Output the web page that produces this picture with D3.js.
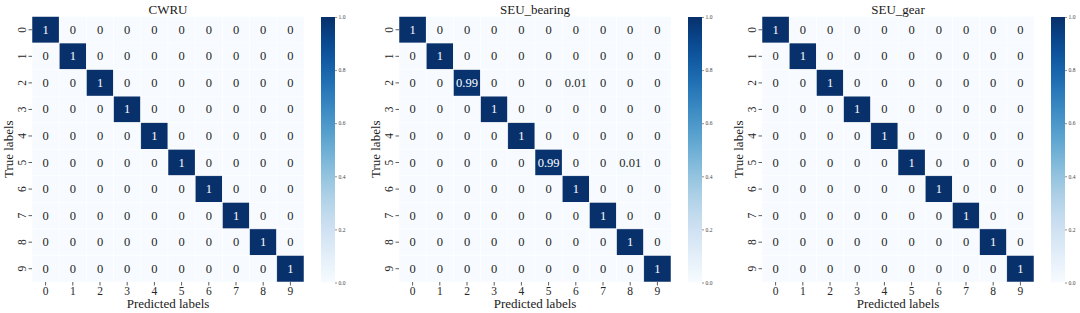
<!DOCTYPE html>
<html>
<head>
<meta charset="utf-8">
<script src="https://cdn.jsdelivr.net/npm/d3@7"></script>
<style>
  html, body { margin: 0; padding: 0; background: #fff; }
  svg { display: block; }
  svg text { font-family: "Liberation Serif", "Times New Roman", serif !important; }
</style>
</head>
<body>
<svg id="chart" width="1080" height="313"></svg>
<script>
const categories = ["0","1","2","3","4","5","6","7","8","9"];
const titles = ["CWRU", "SEU_bearing", "SEU_gear"];
const colorbarTicks = [0.0, 0.2, 0.4, 0.6, 0.8, 1.0];

const cwru = [
  [1,0,0,0,0,0,0,0,0,0],
  [0,1,0,0,0,0,0,0,0,0],
  [0,0,1,0,0,0,0,0,0,0],
  [0,0,0,1,0,0,0,0,0,0],
  [0,0,0,0,1,0,0,0,0,0],
  [0,0,0,0,0,1,0,0,0,0],
  [0,0,0,0,0,0,1,0,0,0],
  [0,0,0,0,0,0,0,1,0,0],
  [0,0,0,0,0,0,0,0,1,0],
  [0,0,0,0,0,0,0,0,0,1]
];
const seuBearing = [
  [1,0,0,0,0,0,0,0,0,0],
  [0,1,0,0,0,0,0,0,0,0],
  [0,0,0.99,0,0,0,0.01,0,0,0],
  [0,0,0,1,0,0,0,0,0,0],
  [0,0,0,0,1,0,0,0,0,0],
  [0,0,0,0,0,0.99,0,0,0.01,0],
  [0,0,0,0,0,0,1,0,0,0],
  [0,0,0,0,0,0,0,1,0,0],
  [0,0,0,0,0,0,0,0,1,0],
  [0,0,0,0,0,0,0,0,0,1]
];
const seuGear = [
  [1,0,0,0,0,0,0,0,0,0],
  [0,1,0,0,0,0,0,0,0,0],
  [0,0,1,0,0,0,0,0,0,0],
  [0,0,0,1,0,0,0,0,0,0],
  [0,0,0,0,1,0,0,0,0,0],
  [0,0,0,0,0,1,0,0,0,0],
  [0,0,0,0,0,0,1,0,0,0],
  [0,0,0,0,0,0,0,1,0,0],
  [0,0,0,0,0,0,0,0,1,0],
  [0,0,0,0,0,0,0,0,0,1]
];
const matrices = [cwru, seuBearing, seuGear];

const svg = d3.select("#chart");
const lefts = [32, 399, 762];
const topY = 16.5, hmW = 272, hmH = 265.5;
const cbOffset = 289, cbW = 14, cbTop = 17, cbBottom = 282.5;
const color = d3.scaleSequential(d3.interpolateBlues).domain([0, 1]);
const fmt = v => (v === 0 || v === 1) ? String(v) : d3.format(".2f")(v);

// gradient
const defs = svg.append("defs");
const grad = defs.append("linearGradient").attr("id", "cbgrad")
  .attr("x1", 0).attr("y1", 1).attr("x2", 0).attr("y2", 0);
d3.range(0, 1.0001, 0.05).forEach(t => {
  grad.append("stop").attr("offset", t).attr("stop-color", color(t));
});

matrices.forEach((mat, pi) => {
  const left = lefts[pi];
  const g = svg.append("g");
  const x = d3.scaleBand().domain(categories).range([left, left + hmW]);
  const y = d3.scaleBand().domain(categories).range([topY, topY + hmH]);

  const cells = [];
  mat.forEach((row, r) => row.forEach((v, c) => cells.push({r, c, v})));

  g.selectAll("rect.cell").data(cells).join("rect")
    .attr("class", "cell")
    .attr("x", d => x(categories[d.c]))
    .attr("y", d => y(categories[d.r]))
    .attr("width", x.bandwidth())
    .attr("height", y.bandwidth())
    .attr("fill", d => color(d.v))
    .attr("stroke", "#ffffff")
    .attr("stroke-width", 0.5);

  g.selectAll("text.annot").data(cells).join("text")
    .attr("class", "annot")
    .attr("x", d => x(categories[d.c]) + x.bandwidth() / 2)
    .attr("y", d => y(categories[d.r]) + y.bandwidth() / 2)
    .attr("text-anchor", "middle")
    .attr("dominant-baseline", "central")
    .attr("font-size", 12.5)
    .attr("fill", d => d.v > 0.5 ? "#ffffff" : "#262626")
    .text(d => fmt(d.v));

  // x axis
  const xa = g.append("g").attr("transform", `translate(0,${topY + hmH})`)
    .call(d3.axisBottom(x).tickSize(3.5).tickPadding(1));
  xa.select(".domain").remove();
  xa.selectAll(".tick line").attr("stroke", "#333").attr("stroke-width", 0.8);
  xa.selectAll(".tick text").attr("font-size", 11.5).attr("fill", "#262626");

  // y axis
  const ya = g.append("g").attr("transform", `translate(${left},0)`)
    .call(d3.axisLeft(y).tickSize(3.5).tickPadding(2));
  ya.select(".domain").remove();
  ya.selectAll(".tick line").attr("stroke", "#333").attr("stroke-width", 0.8);
  ya.selectAll(".tick text").attr("font-size", 11.5).attr("fill", "#262626")
    .attr("x", null).attr("dy", null)
    .attr("text-anchor", "middle")
    .attr("dominant-baseline", "central")
    .attr("transform", "translate(-10.5,0) rotate(-90)");

  // labels
  g.append("text").attr("x", left + hmW / 2).attr("y", 14)
    .attr("text-anchor", "middle").attr("font-size", 13).attr("fill", "#1a1a1a")
    .text(titles[pi]);
  g.append("text").attr("x", left + hmW / 2).attr("y", 307.5)
    .attr("text-anchor", "middle").attr("font-size", 13).attr("fill", "#1a1a1a")
    .text("Predicted labels");
  g.append("text")
    .attr("transform", `translate(${left - 19},${topY + hmH / 2}) rotate(-90)`)
    .attr("text-anchor", "middle").attr("font-size", 13).attr("fill", "#1a1a1a")
    .text("True labels");

  // colorbar
  const cx = left + cbOffset;
  g.append("rect").attr("x", cx).attr("y", cbTop).attr("width", cbW)
    .attr("height", cbBottom - cbTop).attr("fill", "url(#cbgrad)");
  const cs = d3.scaleLinear().domain([0, 1]).range([cbBottom, cbTop]);
  const ca = g.append("g").attr("transform", `translate(${cx + cbW},0)`)
    .call(d3.axisRight(cs).tickValues(colorbarTicks).tickFormat(d3.format(".1f")).tickSize(2).tickPadding(1.5));
  ca.select(".domain").remove();
  ca.selectAll(".tick line").attr("stroke", "#444").attr("stroke-width", 0.6);
  ca.selectAll(".tick text").attr("font-size", 5.5).attr("fill", "#444");
});
</script>
</body>
</html>
